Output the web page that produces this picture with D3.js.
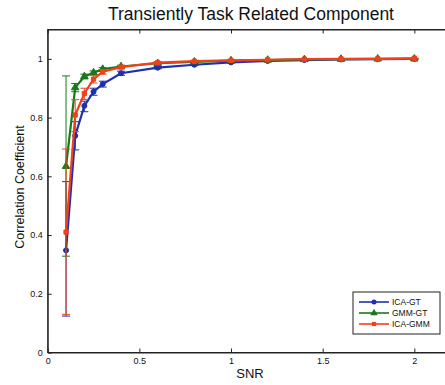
<!DOCTYPE html>
<html>
<head>
<meta charset="utf-8">
<script src="https://cdn.jsdelivr.net/npm/d3@7"></script>
<style>
  html, body { margin: 0; padding: 0; background: #fff; }
  svg { display: block; font-family: "Liberation Sans", Arial, Helvetica, sans-serif; }
</style>
</head>
<body>
<svg id="chart" width="445" height="385"></svg>
<script>
// SNR levels shared by all three comparisons
const snr = [0.1, 0.15, 0.2, 0.25, 0.3, 0.4, 0.6, 0.8, 1.0, 1.2, 1.4, 1.6, 1.8, 2.0];

// Mean correlation coefficients
const icaGT  = [0.348, 0.738, 0.840, 0.888, 0.914, 0.951, 0.970, 0.980, 0.988, 0.993, 0.996, 0.998, 0.999, 1.000];
const gmmGT  = [0.634, 0.902, 0.940, 0.953, 0.965, 0.974, 0.985, 0.990, 0.994, 0.996, 0.998, 0.999, 1.000, 1.000];
const icaGMM = [0.410, 0.809, 0.882, 0.931, 0.956, 0.972, 0.987, 0.992, 0.995, 0.997, 0.999, 1.000, 1.000, 1.002];

// Error bar extents (lower, upper)
const icaGTLo  = [0.124, 0.690, 0.820, 0.876, 0.904, 0.944, 0.966, 0.977, 0.986, 0.991, 0.995, 0.997, 0.998, 0.999];
const icaGTHi  = [0.582, 0.786, 0.856, 0.900, 0.924, 0.958, 0.974, 0.983, 0.990, 0.995, 0.997, 0.999, 1.000, 1.001];
const gmmGTLo  = [0.328, 0.888, 0.932, 0.947, 0.960, 0.970, 0.982, 0.988, 0.992, 0.995, 0.997, 0.998, 0.999, 0.999];
const gmmGTHi  = [0.942, 0.916, 0.948, 0.959, 0.970, 0.978, 0.988, 0.992, 0.996, 0.997, 0.999, 1.000, 1.001, 1.001];
const icaGMMLo = [0.130, 0.752, 0.862, 0.918, 0.948, 0.966, 0.983, 0.989, 0.993, 0.996, 0.998, 0.999, 0.999, 1.001];
const icaGMMHi = [0.693, 0.861, 0.900, 0.944, 0.964, 0.978, 0.991, 0.995, 0.997, 0.998, 1.000, 1.001, 1.001, 1.003];

const xTicks = [0, 0.5, 1, 1.5, 2];
const xTickLabels = ["0", "0.5", "1", "1.5", "2"];
const yTicks = [0, 0.2, 0.4, 0.6, 0.8, 1];
const yTickLabels = ["0", "0.2", "0.4", "0.6", "0.8", "1"];

const seriesNames = ["ICA-GT", "GMM-GT", "ICA-GMM"];
const seriesColors = ["#1f2fb0", "#167a16", "#f2401c"];
const seriesMarkers = ["circle", "triangle", "square"];

const series = seriesNames.map((name, i) => ({
  name,
  color: seriesColors[i],
  marker: seriesMarkers[i],
  values: [icaGT, gmmGT, icaGMM][i],
  lo: [icaGTLo, gmmGTLo, icaGMMLo][i],
  hi: [icaGTHi, gmmGTHi, icaGMMHi][i]
}));

const svg = d3.select("#chart");
const plotLeft = 47.7, plotRight = 451, plotTop = 29.5, plotBottom = 352.5;

const x = d3.scaleLinear().domain([0, 2.2]).range([plotLeft, plotRight]);
const y = d3.scaleLinear().domain([0, 1.1]).range([plotBottom, plotTop]);

// Axes box
svg.append("rect")
  .attr("x", plotLeft).attr("y", plotTop)
  .attr("width", plotRight - plotLeft).attr("height", plotBottom - plotTop)
  .attr("fill", "none").attr("stroke", "#222").attr("stroke-width", 1);

const xAxis = d3.axisBottom(x).tickValues(xTicks)
  .tickFormat((d, i) => xTickLabels[i]).tickSizeInner(-4).tickSizeOuter(0).tickPadding(5);
const xAxisTop = d3.axisTop(x).tickValues(xTicks).tickFormat("").tickSizeInner(-4).tickSizeOuter(0);
const yAxis = d3.axisLeft(y).tickValues(yTicks)
  .tickFormat((d, i) => yTickLabels[i]).tickSizeInner(-4).tickSizeOuter(0).tickPadding(5);

function styleAxis(g) {
  g.select(".domain").attr("stroke", "#222");
  g.selectAll(".tick line").attr("stroke", "#222");
  g.selectAll(".tick text").attr("fill", "#111").style("font-size", "9px")
    .style("font-family", "'Liberation Sans', Arial, sans-serif");
}

svg.append("g").attr("transform", `translate(0,${plotBottom})`).call(xAxis).call(styleAxis);
svg.append("g").attr("transform", `translate(0,${plotTop})`).call(xAxisTop).call(styleAxis);
svg.append("g").attr("transform", `translate(${plotLeft},0)`).call(yAxis).call(styleAxis);

// Titles
svg.append("text").attr("x", 251).attr("y", 20).attr("text-anchor", "middle")
  .style("font-size", "17.5px").attr("fill", "#111").text("Transiently Task Related Component");
svg.append("text").attr("x", 250).attr("y", 378).attr("text-anchor", "middle")
  .style("font-size", "13px").attr("fill", "#111").text("SNR");
svg.append("text").attr("transform", "translate(24,187) rotate(-90)")
  .attr("text-anchor", "middle").style("font-size", "12.5px").attr("fill", "#111")
  .text("Correlation Coefficient");

// Marker symbols
const symbolFor = {
  circle: d3.symbol().type(d3.symbolCircle).size(20),
  triangle: d3.symbol().type(d3.symbolTriangle).size(24),
  square: d3.symbol().type(d3.symbolSquare).size(18)
};

const line = d3.line().x(d => x(d[0])).y(d => y(d[1]));
const cap = 4;

series.forEach(s => {
  const g = svg.append("g");
  // Error bars
  snr.forEach((v, i) => {
    const xe = x(v), y0 = y(s.lo[i]), y1 = y(s.hi[i]);
    g.append("line").attr("x1", xe).attr("x2", xe).attr("y1", y0).attr("y2", y1)
      .attr("stroke", s.color).attr("stroke-width", 1);
    [y0, y1].forEach(yy => g.append("line")
      .attr("x1", xe - cap).attr("x2", xe + cap).attr("y1", yy).attr("y2", yy)
      .attr("stroke", s.color).attr("stroke-width", 1));
  });
  // Mean curve
  g.append("path").datum(snr.map((v, i) => [v, s.values[i]]))
    .attr("d", line).attr("fill", "none").attr("stroke", s.color).attr("stroke-width", 2.2);
  // Markers
  g.selectAll("path.m").data(snr.map((v, i) => [v, s.values[i]])).enter()
    .append("path").attr("class", "m")
    .attr("transform", d => `translate(${x(d[0])},${y(d[1])})`)
    .attr("d", symbolFor[s.marker]()).attr("fill", s.color).attr("stroke", s.color);
});

// Legend
const lg = svg.append("g").attr("transform", "translate(353,292)");
lg.append("rect").attr("width", 87).attr("height", 42)
  .attr("fill", "#fff").attr("stroke", "#222").attr("stroke-width", 1);
series.forEach((s, i) => {
  const yy = 10 + i * 11;
  lg.append("line").attr("x1", 6).attr("x2", 36).attr("y1", yy).attr("y2", yy)
    .attr("stroke", s.color).attr("stroke-width", 1.6);
  lg.append("path").attr("transform", `translate(21,${yy})`)
    .attr("d", symbolFor[s.marker]()).attr("fill", s.color);
  lg.append("text").attr("x", 39).attr("y", yy + 3).style("font-size", "8.5px")
    .attr("fill", "#111").text(s.name);
});
</script>
</body>
</html>
